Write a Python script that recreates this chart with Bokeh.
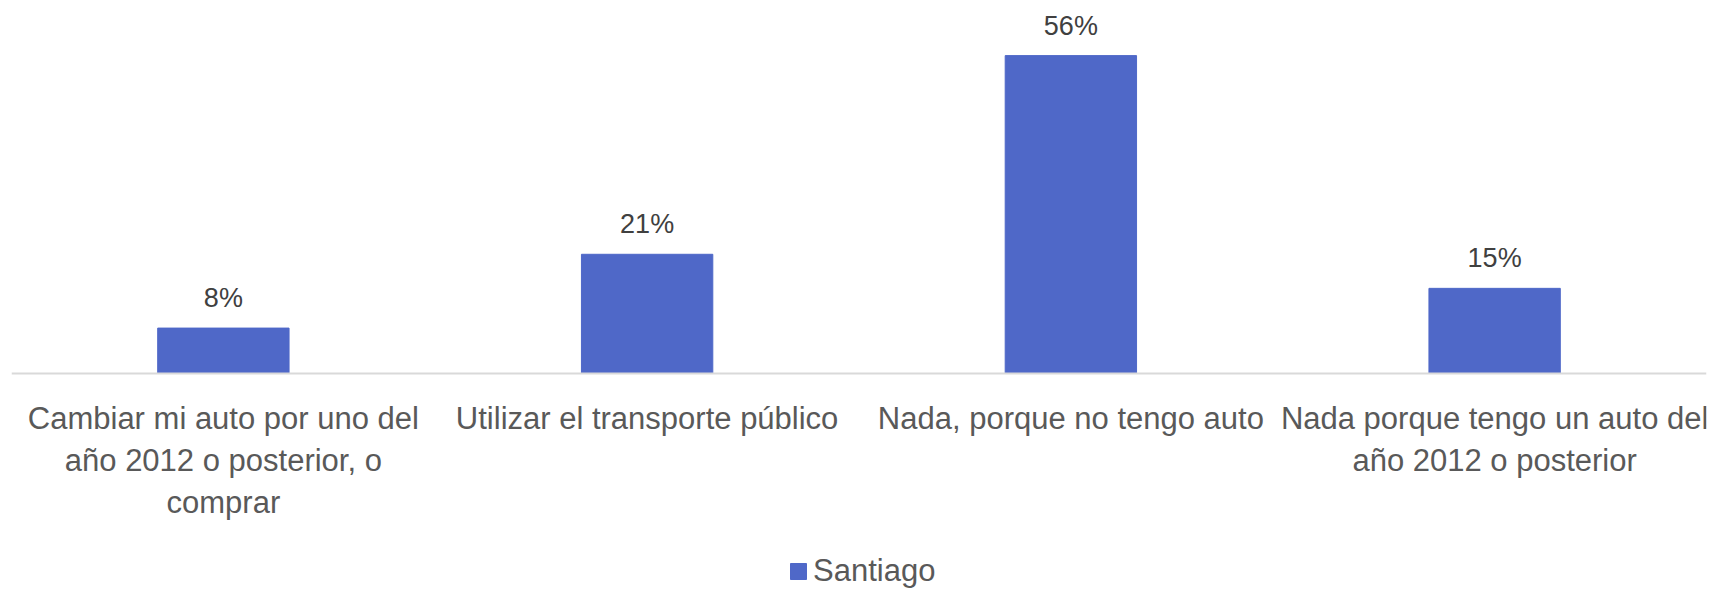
from bokeh.plotting import figure
from bokeh.models import ColumnDataSource, Range1d, Legend, LegendItem
from bokeh.core.properties import value
from bokeh.embed import file_html
from bokeh.resources import INLINE

categories = [
    "Cambiar mi auto por uno del\naño 2012 o posterior, o\ncomprar",
    "Utilizar el transporte público",
    "Nada, porque no tengo auto",
    "Nada porque tengo un auto del\naño 2012 o posterior",
]
values = [0.08, 0.21, 0.56, 0.15]
labels = ["8%", "21%", "56%", "15%"]
series_name = "Santiago"

FONT = "Liberation Sans"
BAR = "#4F68C8"

src = ColumnDataSource(dict(x=categories, top=values, label=labels))

# frame spans from the top of the chart down past the legend; the
# category axis is pinned at y = 0 so labels and legend share the frame
p = figure(x_range=categories, y_range=Range1d(-0.414, 0.643),
           frame_width=1695, frame_height=600, output_backend="svg", toolbar_location=None,
           min_border_left=11, min_border_right=7, min_border_top=8, min_border_bottom=0)
p.outline_line_color = None
p.xgrid.grid_line_color = None
p.ygrid.grid_line_color = None
p.yaxis.visible = False
p.x_range.range_padding = 0

r = p.vbar(x="x", top="top", width=0.31, source=src, fill_color=BAR, line_color=BAR)
p.text(x="x", y="top", text="label", source=src, text_align="center",
       text_baseline="alphabetic", y_offset=-30, text_color="#404040",
       text_font=value(FONT), text_font_size="27px")

ax = p.xaxis[0]
ax.fixed_location = 0
ax.axis_line_color = "#D9D9D9"
ax.axis_line_width = 2
ax.major_tick_line_color = None
ax.minor_tick_line_color = None
ax.major_label_text_font = FONT
ax.major_label_text_font_size = "31px"
ax.major_label_text_color = "#595959"
ax.major_label_standoff = 22

legend = Legend(items=[LegendItem(label=series_name, renderers=[r])],
                orientation="horizontal", location=(777, 19),
                border_line_color=None, background_fill_alpha=0,
                glyph_width=20, glyph_height=20, label_standoff=5,
                label_text_font=FONT, label_text_font_size="31px",
                label_text_color="#595959", padding=0, margin=0)
p.add_layout(legend, "center")

open("out.html", "w").write(file_html(p, INLINE))
